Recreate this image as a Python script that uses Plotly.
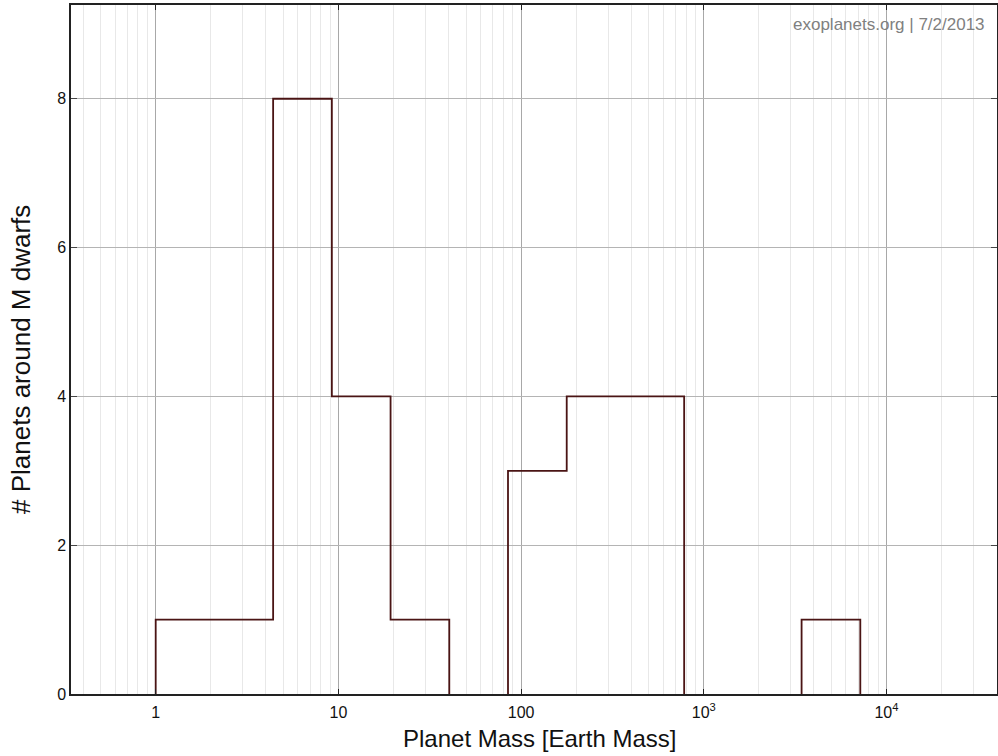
import plotly.graph_objects as go

# ---- data ----
bin_width_dex = 0.3214
bin_edges = [10 ** (k * bin_width_dex) for k in range(13)]  # log-spaced bin edges starting at 1 Earth mass
counts = [1, 1, 8, 4, 1, 0, 3, 4, 4, 0, 0, 1]

major_tickvals = [1, 10, 100, 1000, 10000]
major_ticktext = ["1", "10", "100", "10<sup>3</sup>", "10<sup>4</sup>"]
minor_tickvals = [m * 10 ** d for d in range(-1, 5) for m in range(2, 10)]
y_tickvals = [0, 2, 4, 6, 8]

# ---- step outline of histogram (break at empty bins) ----
xs, ys = [], []
in_group = False
for i, c in enumerate(counts):
    if c > 0:
        if not in_group:
            xs.append(bin_edges[i]); ys.append(0)
            in_group = True
        xs += [bin_edges[i], bin_edges[i + 1]]
        ys += [c, c]
    elif in_group:
        xs += [bin_edges[i], None]; ys += [0, None]
        in_group = False
if in_group:
    xs.append(bin_edges[len(counts)]); ys.append(0)

FONT = "Liberation Sans, Arial, Helvetica, sans-serif"
W, H = 998, 756
ML, MR, MT, MB = 71, 1, 5, 62
PW, PH = W - ML - MR, H - MT - MB


def px_x(p):
    return (p - ML) / PW


def px_y(p):
    return (H - MB - p) / PH


fig = go.Figure()
fig.add_trace(go.Scatter(
    x=xs, y=ys, mode="lines",
    line=dict(color="#4a1414", width=1.8),
    connectgaps=False,
    hoverinfo="skip", showlegend=False,
))

fig.update_layout(
    width=W, height=H,
    margin=dict(l=ML, r=MR, t=MT, b=MB, autoexpand=False),
    paper_bgcolor="white", plot_bgcolor="white",
    font=dict(family=FONT, color="#111111", size=16),
    showlegend=False,
)

fig.update_xaxes(
    type="log",
    range=[-0.4636, 4.605],
    automargin=False,
    tickmode="array", tickvals=major_tickvals, ticktext=major_ticktext,
    tickfont=dict(size=16, family=FONT, color="#111111"),
    ticks="inside", ticklen=5, tickwidth=1, tickcolor="#222222",
    ticklabelstandoff=3,
    showgrid=True, gridcolor="#a8a8a8", gridwidth=1,
    minor=dict(tickmode="array", tickvals=minor_tickvals, showgrid=True,
               gridcolor="#e8e8e8", gridwidth=1, ticks=""),
    showline=True, linecolor="#222222", linewidth=1.5, mirror="ticks",
    zeroline=False,
)

fig.update_yaxes(
    range=[0, 9.26],
    automargin=False,
    tickmode="array", tickvals=y_tickvals,
    tickfont=dict(size=16, family=FONT, color="#111111"),
    ticks="inside", ticklen=6, tickwidth=1, tickcolor="#444444",
    showgrid=True, gridcolor="#b4b4b4", gridwidth=1,
    showline=True, linecolor="#222222", linewidth=1.5, mirror="ticks",
    zeroline=False,
)

# axis titles
fig.add_annotation(
    text="Planet Mass [Earth Mass]",
    xref="paper", yref="paper", x=px_x(539), y=px_y(738.5),
    xanchor="center", yanchor="middle", showarrow=False,
    font=dict(size=24, family=FONT, color="#111111"),
)
fig.add_annotation(
    text="# Planets around M dwarfs",
    xref="paper", yref="paper", x=px_x(21), y=px_y(360),
    xanchor="center", yanchor="middle", textangle=-90, showarrow=False,
    font=dict(size=26, family=FONT, color="#111111"),
)

fig.add_annotation(
    text="exoplanets.org | 7/2/2013",
    xref="paper", yref="paper", x=1, y=px_y(25),
    xanchor="right", yanchor="middle", xshift=-10,
    showarrow=False,
    font=dict(size=17, family=FONT, color="#808080"),
)

fig.write_html(
    "out.html",
    config={"displayModeBar": False},
    post_script="document.body.style.margin='0';document.body.style.padding='0';document.body.style.overflow='hidden';",
)
